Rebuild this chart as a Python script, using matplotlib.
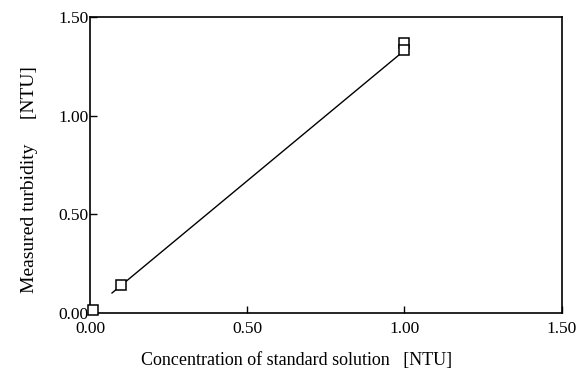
import matplotlib
matplotlib.use("Agg")
import matplotlib.pyplot as plt

# data
conc = [0.01, 0.10, 1.0, 1.0]
measured = [0.015, 0.14, 1.37, 1.335]
fit_x = [0.07, 1.0]
fit_y = [0.10, 1.33]

xticks = [0.0, 0.5, 1.0, 1.5]
yticks = [0.0, 0.5, 1.0, 1.5]
tick_labels = ["0.00", "0.50", "1.00", "1.50"]

plt.rcParams['font.family'] = ['Liberation Serif', 'DejaVu Serif']

fig = plt.figure(figsize=(5.84, 3.81), dpi=100)
ax = fig.add_axes([90/584, 1-312.7/381, (561.5-90)/584, (312.7-17)/381])

ax.plot(fit_x, fit_y, color='black', lw=1.0, zorder=2)
ax.plot(conc, measured, linestyle='none', marker='s', markersize=7.5,
        markerfacecolor='white', markeredgecolor='black', markeredgewidth=1.1,
        zorder=3, clip_on=False)

ax.set_xlim(0, 1.5)
ax.set_ylim(0, 1.5)
ax.set_xticks(xticks)
ax.set_xticklabels(tick_labels)
ax.set_yticks(yticks)
ax.set_yticklabels(tick_labels)
ax.tick_params(direction='in', length=5, width=1, labelsize=12.5)
ax.tick_params(axis='y', pad=1)
ax.tick_params(axis='x', pad=6)

for s in ax.spines.values():
    s.set_linewidth(1.2)

fig.text(297/584, 1-360/381, "Concentration of standard solution   [NTU]",
         fontsize=13, ha='center', va='center')
fig.text(30/584, 1-180/381, "Measured turbidity     [NTU]",
         fontsize=14, ha='center', va='center', rotation=90)

fig.savefig("out.png", dpi=100)
